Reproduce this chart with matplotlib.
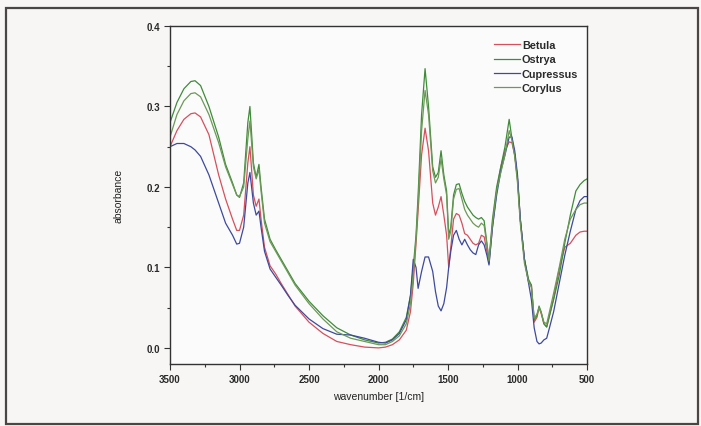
import matplotlib
matplotlib.use("Agg")
import matplotlib.pyplot as plt
from matplotlib.ticker import MultipleLocator
from matplotlib.patches import Rectangle

plt.rcParams['font.family'] = ['Liberation Sans', 'DejaVu Sans']

# wavenumber grid [1/cm]
wavenumber = [3500, 3450, 3400, 3350, 3320, 3280, 3220, 3150, 3100, 3050, 3020, 3000,
              2970, 2940, 2925, 2900, 2880, 2860, 2845, 2820, 2780, 2740, 2700, 2650,
              2600, 2500, 2400, 2300, 2200, 2100, 2000, 1950, 1900, 1850, 1800, 1770,
              1750, 1730, 1715, 1690, 1665, 1640, 1610, 1590, 1570, 1550, 1530, 1510,
              1495, 1480, 1460, 1440, 1420, 1400, 1380, 1360, 1340, 1320, 1300, 1280,
              1260, 1240, 1220, 1205, 1180, 1150, 1120, 1090, 1060, 1040, 1020, 1000,
              980, 950, 920, 900, 880, 860, 845, 830, 810, 790, 770, 740, 700, 660,
              620, 580, 550, 520, 500]

betula = [0.250, 0.270, 0.284, 0.291, 0.292, 0.287, 0.265, 0.215, 0.185, 0.160, 0.146, 0.146,
          0.165, 0.230, 0.250, 0.190, 0.176, 0.185, 0.160, 0.125, 0.102, 0.092, 0.080, 0.066,
          0.052, 0.032, 0.018, 0.008, 0.004, 0.001, 0.000, 0.001, 0.004, 0.010, 0.022, 0.045,
          0.080, 0.130, 0.170, 0.240, 0.273, 0.245, 0.180, 0.165, 0.175, 0.188, 0.165, 0.140,
          0.100, 0.125, 0.160, 0.167, 0.165, 0.155, 0.142, 0.140, 0.135, 0.130, 0.128, 0.130,
          0.140, 0.138, 0.120, 0.105, 0.150, 0.195, 0.225, 0.245, 0.256, 0.255, 0.240, 0.210,
          0.160, 0.110, 0.082, 0.078, 0.032, 0.038, 0.050, 0.043, 0.030, 0.026, 0.040, 0.062,
          0.098, 0.125, 0.130, 0.140, 0.144, 0.145, 0.145]

ostrya = [0.280, 0.305, 0.322, 0.331, 0.332, 0.326, 0.300, 0.262, 0.228, 0.205, 0.190, 0.187,
          0.205, 0.280, 0.300, 0.230, 0.212, 0.228, 0.200, 0.160, 0.135, 0.122, 0.110, 0.095,
          0.080, 0.058, 0.040, 0.025, 0.016, 0.010, 0.006, 0.007, 0.011, 0.020, 0.038, 0.065,
          0.100, 0.140, 0.190, 0.290, 0.347, 0.300, 0.225, 0.212, 0.218, 0.245, 0.215, 0.195,
          0.140, 0.150, 0.190, 0.203, 0.204, 0.192, 0.182, 0.175, 0.170, 0.165, 0.162, 0.160,
          0.162, 0.158, 0.130, 0.108, 0.160, 0.200, 0.225, 0.250, 0.284, 0.260, 0.240, 0.210,
          0.160, 0.110, 0.085, 0.078, 0.035, 0.040, 0.052, 0.045, 0.030, 0.026, 0.040, 0.060,
          0.090, 0.130, 0.165, 0.195, 0.203, 0.208, 0.210]

cupressus = [0.250, 0.254, 0.254, 0.250, 0.246, 0.238, 0.215, 0.180, 0.155, 0.140, 0.129, 0.130,
             0.150, 0.205, 0.218, 0.180, 0.165, 0.170, 0.150, 0.120, 0.098, 0.088, 0.078, 0.065,
             0.053, 0.036, 0.024, 0.017, 0.016, 0.012, 0.007, 0.006, 0.010, 0.018, 0.035, 0.065,
             0.110, 0.100, 0.074, 0.095, 0.113, 0.113, 0.095, 0.070, 0.052, 0.046, 0.055, 0.075,
             0.100, 0.120, 0.140, 0.146, 0.135, 0.128, 0.135, 0.128, 0.122, 0.118, 0.116, 0.128,
             0.133, 0.128, 0.115, 0.103, 0.150, 0.190, 0.220, 0.240, 0.262, 0.262, 0.245, 0.215,
             0.160, 0.110, 0.080, 0.060, 0.025, 0.008, 0.005, 0.006, 0.010, 0.012, 0.025, 0.045,
             0.080, 0.115, 0.145, 0.172, 0.183, 0.188, 0.188]

corylus = [0.262, 0.290, 0.307, 0.316, 0.317, 0.312, 0.290, 0.255, 0.225, 0.203, 0.190, 0.188,
           0.200, 0.260, 0.282, 0.225, 0.210, 0.222, 0.195, 0.155, 0.132, 0.120, 0.108, 0.093,
           0.078, 0.055, 0.036, 0.020, 0.012, 0.008, 0.004, 0.004, 0.008, 0.015, 0.030, 0.055,
           0.090, 0.135, 0.180, 0.270, 0.320, 0.290, 0.220, 0.205, 0.212, 0.235, 0.210, 0.190,
           0.135, 0.145, 0.185, 0.197, 0.198, 0.185, 0.172, 0.165, 0.160, 0.155, 0.152, 0.150,
           0.155, 0.152, 0.128, 0.108, 0.155, 0.195, 0.218, 0.240, 0.270, 0.258, 0.238, 0.205,
           0.155, 0.105, 0.082, 0.075, 0.037, 0.042, 0.050, 0.044, 0.032, 0.030, 0.045, 0.068,
           0.100, 0.135, 0.160, 0.172, 0.178, 0.180, 0.180]

names = ['Betula', 'Ostrya', 'Cupressus', 'Corylus']
colors = ['#d5505c', '#3f8c38', '#3d4a9c', '#6e9858']

W, H = 701, 427
fig = plt.figure(figsize=(W / 100, H / 100), dpi=100, facecolor='#f7f6f4')

# scanned page frame
fig.patches.append(Rectangle((6 / W, 2 / H), 692 / W, 416 / H, transform=fig.transFigure,
                             fill=False, edgecolor='#4a4642', linewidth=1.6))

ax = fig.add_axes([170 / W, 1 - 365 / H, 417 / W, 338 / H])
ax.set_facecolor('#fbfbfc')

for name, vals, c in zip(names, [betula, ostrya, cupressus, corylus], colors):
    ax.plot(wavenumber, vals, color=c, linewidth=0.9, label=name)

ax.set_xlim(3500, 500)
ax.set_ylim(-0.02, 0.4)
ax.xaxis.set_major_locator(MultipleLocator(500))
ax.xaxis.set_minor_locator(MultipleLocator(250))
ax.yaxis.set_major_locator(MultipleLocator(0.1))
ax.yaxis.set_minor_locator(MultipleLocator(0.05))
ax.yaxis.set_major_formatter(plt.FuncFormatter(lambda v, p: '%.1f' % v))
ax.tick_params(which='both', direction='out', color='#333333', width=0.8)
ax.tick_params(which='major', length=4, labelsize=7, pad=3)
ax.tick_params(which='minor', length=2.5)
for lab in ax.get_xticklabels() + ax.get_yticklabels():
    lab.set_fontweight('bold')
    lab.set_color('#2a2a2a')
for s in ax.spines.values():
    s.set_linewidth(1.0)
    s.set_color('#333333')

ax.set_xlabel('wavenumber [1/cm]', fontsize=7.5, labelpad=5, color='#222222')
ax.set_ylabel('absorbance', fontsize=7.5, labelpad=17, color='#222222')

leg = ax.legend(loc='upper right', bbox_to_anchor=(1.0, 0.984), frameon=False,
                fontsize=7.8, handlelength=2.4, handletextpad=0.15, labelspacing=0.4,
                borderaxespad=0.4)
for t in leg.get_texts():
    t.set_fontweight('bold')
    t.set_color('#2a2a2a')

fig.savefig('out.png', dpi=100, facecolor=fig.get_facecolor())
